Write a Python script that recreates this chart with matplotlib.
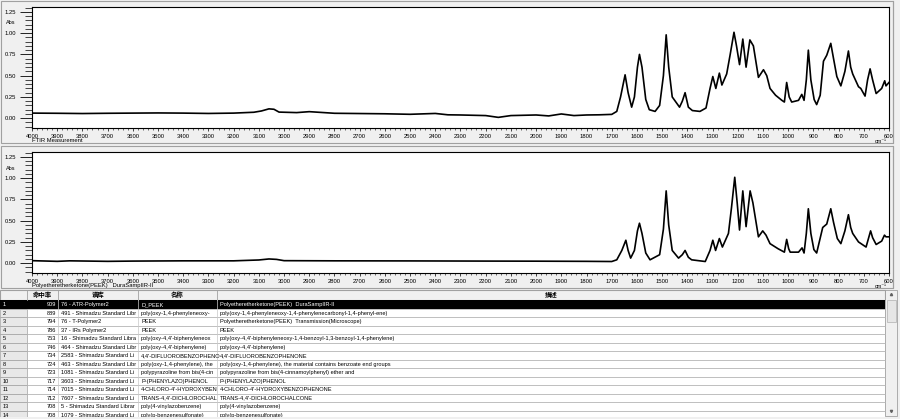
import numpy as np
import matplotlib
matplotlib.use('Agg')
import matplotlib.pyplot as plt
from matplotlib.patches import Rectangle
from matplotlib.ticker import MultipleLocator, FormatStrFormatter

plt.rcParams['font.family'] = ['Liberation Sans', 'Noto Sans CJK SC', 'DejaVu Sans']

# measured spectrum (top) : wavenumber [cm-1], absorbance
meas_wn = [4000, 3900, 3800, 3700, 3600, 3500, 3400, 3300, 3200, 3120, 3090, 3060, 3040, 3020,
           2950, 2900, 2800, 2700, 2600, 2500, 2400, 2350, 2300, 2200, 2150, 2100, 2000, 1950,
           1900, 1850, 1800, 1750, 1700, 1680, 1665, 1647, 1635, 1621, 1610, 1598, 1590, 1580,
           1565, 1551, 1528, 1510, 1495, 1484, 1474, 1460, 1431, 1420, 1409, 1396, 1380, 1350,
           1326, 1310, 1299, 1287, 1273, 1263, 1244, 1230, 1215, 1205, 1193, 1180, 1167, 1152,
           1138, 1118, 1098, 1085, 1072, 1050, 1025, 1015, 1006, 996, 986, 959, 946, 937, 928,
           920, 910, 897, 887, 873, 860, 847, 831, 820, 807, 791, 775, 761, 752, 744, 721, 712,
           695, 685, 675, 665, 651, 629, 617, 612, 600]
meas_abs = [0.060, 0.058, 0.055, 0.058, 0.060, 0.062, 0.060, 0.056, 0.060, 0.070, 0.085, 0.110, 0.105, 0.072,
            0.066, 0.077, 0.058, 0.055, 0.052, 0.046, 0.056, 0.040, 0.038, 0.031, 0.010, 0.031, 0.038, 0.027,
            0.050, 0.031, 0.038, 0.040, 0.045, 0.080, 0.250, 0.510, 0.300, 0.130, 0.250, 0.600, 0.750, 0.600,
            0.220, 0.100, 0.080, 0.150, 0.500, 0.980, 0.600, 0.250, 0.130, 0.200, 0.300, 0.130, 0.090, 0.080,
            0.120, 0.350, 0.490, 0.350, 0.530, 0.390, 0.520, 0.750, 1.010, 0.850, 0.630, 0.930, 0.600, 0.920,
            0.850, 0.480, 0.570, 0.500, 0.350, 0.270, 0.210, 0.190, 0.420, 0.250, 0.190, 0.210, 0.280, 0.210, 0.450,
            0.800, 0.450, 0.220, 0.160, 0.270, 0.670, 0.740, 0.880, 0.700, 0.490, 0.380, 0.550, 0.790, 0.600, 0.520, 0.370, 0.350,
            0.260, 0.450, 0.580, 0.450, 0.290, 0.350, 0.440, 0.380, 0.420]

# library spectrum D_PEEK (bottom)
lib_wn = [4000, 3900, 3850, 3800, 3700, 3600, 3400, 3200, 3100, 3060, 3030, 3000, 2800, 2500,
          2200, 2000, 1800, 1700, 1680, 1660, 1644, 1635, 1625, 1610, 1598, 1590, 1580, 1565,
          1548, 1510, 1495, 1484, 1474, 1460, 1435, 1420, 1409, 1396, 1383, 1329, 1310, 1299,
          1288, 1273, 1261, 1237, 1225, 1212, 1202, 1193, 1180, 1167, 1151, 1140, 1118, 1101,
          1088, 1072, 1040, 1015, 1006, 998, 992, 959, 945, 937, 928, 920, 910, 898, 887, 863,
          847, 831, 820, 805, 791, 775, 761, 752, 744, 721, 691, 673, 665, 651, 629, 618, 612, 600]
lib_abs = [0.030, 0.022, 0.028, 0.026, 0.022, 0.025, 0.028, 0.028, 0.038, 0.050, 0.045, 0.030, 0.028, 0.027,
           0.025, 0.024, 0.022, 0.020, 0.040, 0.150, 0.270, 0.150, 0.060, 0.150, 0.380, 0.470, 0.350, 0.120,
           0.040, 0.100, 0.400, 0.850, 0.450, 0.150, 0.060, 0.100, 0.150, 0.070, 0.040, 0.020, 0.150, 0.270,
           0.150, 0.290, 0.190, 0.350, 0.650, 1.010, 0.700, 0.390, 0.850, 0.430, 0.850, 0.710, 0.310, 0.380,
           0.330, 0.230, 0.170, 0.130, 0.280, 0.170, 0.130, 0.130, 0.180, 0.120, 0.350, 0.640, 0.350, 0.160, 0.120, 0.420,
           0.460, 0.640, 0.480, 0.290, 0.230, 0.380, 0.570, 0.420, 0.350, 0.250, 0.190, 0.380, 0.300, 0.220, 0.260, 0.330, 0.310, 0.310]

# search result table
col_heads = ['', '命中率', '谱库', '名称', '描述']
hit_rate = [909, 889, 794, 786, 753, 746, 734, 724, 723, 717, 714, 712, 708, 708]
library = ['76 - ATR-Polymer2', '491 - Shimadzu Standard Libr', '76 - T-Polymer2', '37 - IRs Polymer2',
           '16 - Shimadzu Standard Libra', '464 - Shimadzu Standard Libr', '2583 - Shimadzu Standard Li',
           '463 - Shimadzu Standard Libr', '1081 - Shimadzu Standard Li', '3603 - Shimadzu Standard Li',
           '7015 - Shimadzu Standard Li', '7607 - Shimadzu Standard Li', '5 - Shimadzu Standard Librar',
           '1079 - Shimadzu Standard Li']
names = ['D_PEEK', 'poly(oxy-1,4-phenyleneoxy-', 'PEEK', 'PEEK', "poly(oxy-4,4'-biphenyleneox",
         "poly(oxy-4,4'-biphenylene)", "4,4'-DIFLUOROBENZOPHENO", 'poly(oxy-1,4-phenylene), the',
         'polypyrazoline from bis(4-cin', 'P-(PHENYLAZO)PHENOL', "4-CHLORO-4'-HYDROXYBEN",
         "TRANS-4,4'-DICHLOROCHAL", 'poly(4-vinylazobenzene)', 'poly(p-benzenesulfonate)']
descs = ['Polyetheretherketone(PEEK)  DuraSampIIR-II',
         'poly(oxy-1,4-phenyleneoxy-1,4-phenylenecarbonyl-1,4-phenyl-ene)',
         'Polyetheretherketone(PEEK)  Transmission(Microscope)',
         'PEEK',
         "poly(oxy-4,4'-biphenyleneoxy-1,4-benzoyl-1,3-benzoyl-1,4-phenylene)",
         "poly(oxy-4,4'-biphenylene)",
         "4,4'-DIFLUOROBENZOPHENONE",
         'poly(oxy-1,4-phenylene), the material contains benzoate end groups',
         'polypyrazoline from bis(4-cinnamoylphenyl) ether and',
         'P-(PHENYLAZO)PHENOL',
         "4-CHLORO-4'-HYDROXYBENZOPHENONE",
         "TRANS-4,4'-DICHLOROCHALCONE",
         'poly(4-vinylazobenzene)',
         'poly(p-benzenesulfonate)']

W, H = 900, 419
BG = '#f0f0f0'
EDGE = '#a0a0a0'

fig = plt.figure(figsize=(W / 100, H / 100), dpi=100)

# background axes in pixel coordinates
ui = fig.add_axes([0, 0, 1, 1])
ui.set_xlim(0, W)
ui.set_ylim(H, 0)
ui.axis('off')
ui.add_patch(Rectangle((0, 0), W, H, facecolor=BG, edgecolor='none'))


def px_axes(x0, y0, x1, y1):
    return fig.add_axes([x0 / W, 1 - y1 / H, (x1 - x0) / W, (y1 - y0) / H])


def spectrum_panel(top, wn, ab, label, legend):
    # panel frame
    ui.add_patch(Rectangle((0.5, top - 6), 892, 142, facecolor=BG, edgecolor=EDGE, lw=0.8))
    ui.plot([893, 893], [top - 6, top + 136], color=EDGE, lw=0.8)
    ax = px_axes(32, top, 889, top + 121)
    ax.set_facecolor('white')
    ax.plot(wn, ab, color='black', lw=1.2)
    ax.set_xlim(4000, 600)
    ax.set_ylim(-0.115, 1.307)
    ax.xaxis.set_major_locator(MultipleLocator(100))
    ax.xaxis.set_minor_locator(MultipleLocator(20))
    ax.yaxis.set_major_locator(MultipleLocator(0.25))
    ax.yaxis.set_minor_locator(MultipleLocator(0.05))
    ax.yaxis.set_major_formatter(FormatStrFormatter('%.2f'))
    ax.tick_params(axis='y', which='major', length=9, width=0.6, pad=2.5, labelsize=4.2)
    ax.tick_params(axis='y', which='minor', length=5, width=0.5)
    ax.tick_params(axis='x', which='major', length=2.5, width=0.5, pad=1.5, labelsize=4.2)
    ax.tick_params(axis='x', which='minor', length=1.3, width=0.4)
    ax.set_yticks([t for t in ax.get_yticks() if 0 <= t <= 1.26])
    ax.set_xticks(np.arange(4000, 599, -100))
    ax.set_xticklabels([str(v) for v in np.arange(4000, 599, -100)])
    for s in ax.spines.values():
        s.set_linewidth(0.8)
    ui.text(11, top + 16, 'Abs', fontsize=4, ha='center', va='center')
    ui.text(881, top + 134, 'cm⁻¹', fontsize=4, ha='center', va='center')
    ui.text(32, top + 133.5, label, fontsize=4.2, ha='left', va='center')
    # small legend box
    lw_box = 6 + 2.6 * len(legend)
    ui.add_patch(Rectangle((888 - lw_box, top + 1), lw_box, 5, facecolor='white',
                           edgecolor='#606060', lw=0.5, zorder=5))
    ui.text(889 - lw_box + 1, top + 3.6, legend, fontsize=3.2, ha='left', va='center', zorder=6)
    ui.plot([884, 887.5], [top + 3.5, top + 3.5], color='black', lw=0.5, zorder=6)
    return ax


ax1 = spectrum_panel(7, meas_wn, meas_abs, 'FTIR Measurement', '1_2')
ax2 = spectrum_panel(152, lib_wn, lib_abs, 'Polyetheretherketone(PEEK)   DuraSampIIR-II', 'D_PEEK')

# ---- table of library search hits ----
t_top, head_h, row_h = 290, 10, 8.5
col_x = [0, 27, 58, 138, 217, 885]
ui.add_patch(Rectangle((0, t_top), 885, H - t_top, facecolor='white', edgecolor='none'))
ui.add_patch(Rectangle((0, t_top), 885, head_h, facecolor=BG, edgecolor=EDGE, lw=0.8))
for i, h in enumerate(col_heads):
    if h:
        ui.text((col_x[i] + col_x[i + 1]) / 2, t_top + head_h / 2, h, fontsize=4.6,
                ha='center', va='center', fontweight='bold')
for x in col_x[1:]:
    ui.plot([x, x], [t_top, t_top + head_h], color=EDGE, lw=0.6)

y0 = t_top + head_h
for r in range(len(hit_rate)):
    y = y0 + r * row_h
    sel = r == 0
    ui.add_patch(Rectangle((0, y), col_x[1], row_h, facecolor='#e8e8e8',
                           edgecolor=EDGE, lw=0.5))
    if sel:
        ui.add_patch(Rectangle((0, y), 885, row_h, facecolor='black', edgecolor='none'))
    fc = 'white' if sel else 'black'
    cells = [str(r + 1), str(hit_rate[r]), library[r], names[r], descs[r]]
    for c, txt in enumerate(cells):
        if c == 1:
            xt, ha = col_x[2] - 2, 'right'
        else:
            xt, ha = col_x[c] + 3, 'left'
        t = ui.text(xt, y + row_h / 2 + 0.3, txt, fontsize=4.1, ha=ha, va='center', color=fc)
        t.set_clip_path(Rectangle((col_x[c], y), col_x[c + 1] - col_x[c] - 1.5, row_h,
                                  transform=ui.transData))
    ui.plot([col_x[1], 885], [y + row_h, y + row_h], color='#b4b4b4', lw=0.6)
    for x in col_x[2:5]:
        ui.plot([x, x], [y, y + row_h], color='#c8c8c8', lw=0.5)

# vertical scroll bar
ui.add_patch(Rectangle((885, t_top), 12, 126, facecolor=BG, edgecolor=EDGE, lw=0.6))
ui.add_patch(Rectangle((886.5, t_top + 10), 9, 22, facecolor='#e6e6e6', edgecolor='#b0b0b0', lw=0.5))
ui.plot([891], [t_top + 4], marker='^', ms=1.6, color='#606060')
ui.plot([891], [t_top + 121], marker='v', ms=1.6, color='#606060')
# bottom strip
ui.add_patch(Rectangle((0, 416.5), W, 3, facecolor=BG, edgecolor='none', zorder=10))

fig.savefig('out.png', dpi=100)
